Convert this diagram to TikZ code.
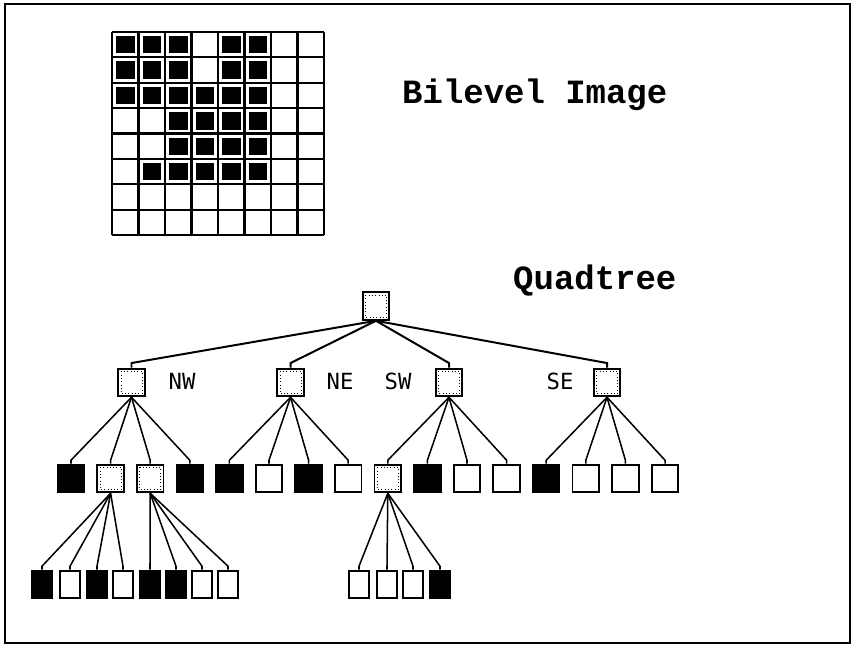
\documentclass[tikz,border=0pt]{standalone}
\usepackage{fontspec}
\setmonofont{Liberation Mono}
\newfontfamily\labelfont{DejaVu Sans Mono}
\usetikzlibrary{calc}

\tikzset{
  box/.style={draw, line width=1.6pt, minimum width=0.8cm, minimum height=0.83cm, inner sep=0pt},
  inode/.style={box, path picture={
      \draw[dotted, line width=0.8pt]
        ([shift={(2.4pt,-2.4pt)}]path picture bounding box.north west) rectangle
        ([shift={(-2.4pt,2.4pt)}]path picture bounding box.south east);}},
  wleaf/.style={box, fill=white},
  bleaf/.style={box, fill=black},
  narrow/.style={minimum width=0.6cm},
  link/.style={line width=1.3pt},
  headtext/.style={font=\ttfamily\bfseries\fontsize{29}{29}\selectfont, inner sep=0pt},
  lbl/.style={font=\labelfont\fontsize{19}{19}\selectfont, inner sep=0pt}
}

\begin{document}
\begin{tikzpicture}[x=0.03cm, y=-0.03cm]
    \useasboundingbox (0,0) rectangle (853,645);

    % Outer frame
    \draw[line width=1.7pt] (5,4) rectangle (850,643);

    % Bilevel image (8 x 8 grid)
    \foreach \i in {0,...,8} {
        \draw[line width=1.9pt] (112+26.5*\i,32) -- (112+26.5*\i,235);
        \draw[line width=1.9pt] (112,32+25.375*\i) -- (324,32+25.375*\i);
    }
    % black pixels, row / columns
    \foreach \r/\cols in {1/{1,2,3,5,6}, 2/{1,2,3,5,6}, 3/{1,2,3,4,5,6},
                          4/{3,4,5,6}, 5/{3,4,5,6}, 6/{2,3,4,5,6}} {
        \foreach \c in \cols {
            \fill (112+26.5*\c-22.5,32+25.375*\r-21.375) rectangle (112+26.5*\c-4,32+25.375*\r-4);
        }
    }

    % Titles
    \node[headtext, anchor=base west] (imgtitle) at (402,103) {Bilevel Image};
    \node[headtext, anchor=base west] (treetitle) at (513,289) {Quadtree};

    % Root and first level
    \node[inode] (root) at (376,306) {};
    \node[inode] (nw) at (131.5,382.5) {};
    \node[inode] (ne) at (290.5,382.5) {};
    \node[inode] (sw) at (449,382.5) {};
    \node[inode] (se) at (607,382.5) {};

    \node[lbl, anchor=base] (nwlbl) at (182,389) {NW};
    \node[lbl, anchor=base] (nelbl) at (340,389) {NE};
    \node[lbl, anchor=base] (swlbl) at (398,389) {SW};
    \node[lbl, anchor=base] (selbl) at (560,389) {SE};

    \foreach \q in {nw,ne,sw,se}
        \draw[line width=1.7pt] (root.south) -- ([yshift=4pt]\q.north) -- (\q.north);

    % Second level
    \foreach \s [count=\k from 0] in {bleaf,inode,inode,bleaf, bleaf,wleaf,bleaf,wleaf,
                                      inode,bleaf,wleaf,wleaf, bleaf,wleaf,wleaf,wleaf}
        \node[\s] (b\k) at (71+39.6*\k,478.5) {};

    \foreach \p/\a in {nw/0,ne/4,sw/8,se/12} {
        \foreach \j in {0,...,3} {
            \pgfmathtruncatemacro\k{\a+\j}
            \draw[link] (\p.south) -- ([yshift=3pt]b\k.north) -- (b\k.north);
        }
    }

    % Third level
    \foreach \s/\x [count=\k] in {bleaf/42,wleaf/70,bleaf/97,wleaf/123}
        \node[\s, narrow] (bA\k) at (\x,584.5) {};
    \foreach \s/\x [count=\k] in {bleaf/150,bleaf/176,wleaf/202,wleaf/228}
        \node[\s, narrow] (bB\k) at (\x,584.5) {};
    \foreach \s/\x [count=\k] in {wleaf/359,wleaf/387,wleaf/413,bleaf/440}
        \node[\s, narrow] (bC\k) at (\x,584.5) {};

    \foreach \k in {1,...,4} {
        \draw[link] (b1.south) -- ([yshift=3pt]bA\k.north) -- (bA\k.north);
        \draw[link] (b2.south) -- ([yshift=3pt]bB\k.north) -- (bB\k.north);
        \draw[link] (b8.south) -- ([yshift=3pt]bC\k.north) -- (bC\k.north);
    }
\end{tikzpicture}
\end{document}
